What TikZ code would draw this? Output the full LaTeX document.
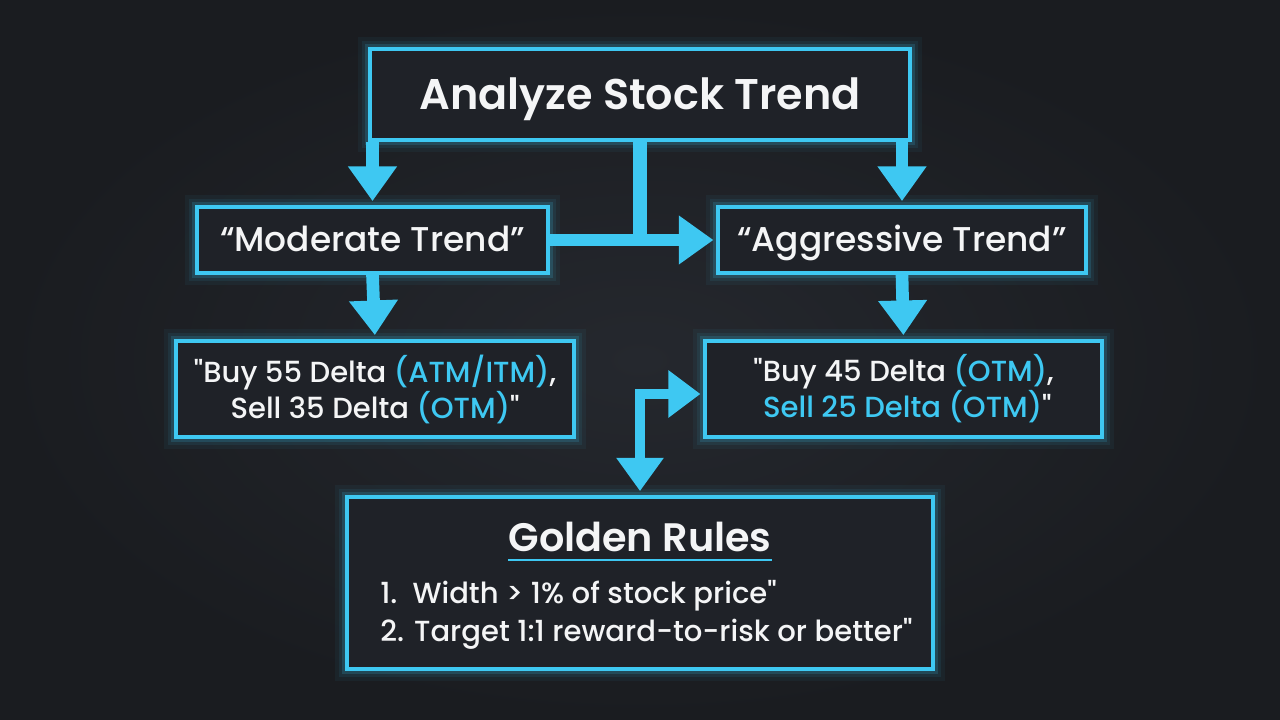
\documentclass[tikz,border=0pt]{standalone}
\usepackage{fontspec}
\setmainfont{Poppins}[Ligatures=TeXOff]
\IfFontExistsTF{Poppins SemiBold}
  {\newfontfamily\semib{Poppins SemiBold}[Ligatures=TeXOff]}
  {\newfontfamily\semib{Poppins}[FakeBold=2,Ligatures=TeXOff]}
\IfFontExistsTF{Poppins Medium}
  {\newfontfamily\medi{Poppins Medium}[Ligatures=TeXOff]}
  {\newfontfamily\medi{Poppins}[FakeBold=0.8,Ligatures=TeXOff]}
\usetikzlibrary{arrows.meta,calc}
\definecolor{bg}{HTML}{25282E}
\definecolor{bgedge}{HTML}{1A1C20}
\definecolor{boxfill}{HTML}{1F2228}
\definecolor{cy}{HTML}{3EC8F2}
\definecolor{tx}{HTML}{F4F5F6}
\begin{document}
\begin{tikzpicture}[x=0.75pt,y=-0.75pt,
  box/.style={draw=cy, line width=2.8pt, fill=boxfill, inner sep=0pt, text=tx, align=center,
    preaction={draw=cy, line width=18pt, draw opacity=0.05},
    preaction={draw=cy, line width=12pt, draw opacity=0.08},
    preaction={draw=cy, line width=7pt, draw opacity=0.16}},
  arr/.style={draw=cy, line width=9.5pt, -{Triangle[length=26pt,width=35pt]}},
  stem/.style={draw=cy, line width=10.5pt},
  bigfont/.style={font=\fontsize{32.2}{38}\semib},
  goldfont/.style={font=\fontsize{29.8}{34}\semib},
  midfont/.style={font=\fontsize{25.8}{30}\medi},
  smallfont/.style={font=\fontsize{21.8}{27}\medi},
  plain/.style={text=tx, inner sep=0pt}]
\shade[inner color=bg, outer color=bgedge] (0,0) rectangle (1280,720);
\useasboundingbox (0,0) rectangle (1280,720);

\node[box, minimum width=405pt, minimum height=68.25pt, bigfont, text height=23pt, text depth=0pt] (top) at (640,94.5) {Analyze Stock Trend};
\node[box, minimum width=263.25pt, minimum height=49.5pt, midfont, text height=18pt, text depth=0pt] (mod) at (372.5,240) {“Moderate Trend”};
\node[box, minimum width=276pt, minimum height=49.5pt, midfont, text height=18pt, text depth=0pt] (agg) at (902,240) {“Aggressive Trend”};
\node[box, minimum width=298.5pt, minimum height=72pt, smallfont] (b55) at (375,389)
  {"Buy 55 Delta {\color{cy}(ATM/ITM)},\\Sell 35 Delta {\color{cy}(OTM)}"};
\node[box, minimum width=297.75pt, minimum height=72pt, smallfont] (b45) at (903.5,389)
  {"Buy 45 Delta {\color{cy}(OTM)},\\\ {\color{cy}Sell 25 Delta (OTM)}"};
\node[box, minimum width=439.5pt, minimum height=129pt] (gold) at (640,583) {};

\node[plain, goldfont, anchor=base] (gt) at (640,551) {Golden Rules};
\draw[cy, line width=2.2pt] ($(gt.base west)+(0,9)$) coordinate (ul1) -- ($(gt.base east)+(0,9)$) coordinate (ul2);
\node[plain, smallfont, anchor=base west] (r1) at (380,603) {1.\ \ Width > 1\% of stock price"};
\node[plain, smallfont, anchor=base west] (r2) at (380,641) {2. Target 1:1 reward-to-risk or better"};

% connectors
\draw[arr, shorten >=3pt] (top.south -| mod.north) -- (mod.north);
\draw[arr, shorten >=3pt] (top.south -| agg.north) -- (agg.north);
\draw[stem] (top.south) -- (top.south |- mod.east);
\draw[arr, shorten >=2pt] (mod.east) -- (agg.west);
\draw[arr, shorten >=3pt] (mod.south) -- (b55.north);
\draw[arr, shorten >=3pt] (agg.south) -- (b45.north);
\coordinate (elb) at (640,394);
\draw[draw=cy, line width=7.5pt, {Triangle[length=25pt,width=34pt]}-{Triangle[length=24pt,width=34pt]}, shorten <=3pt, shorten >=2pt]
  (gold.north -| elb) -- (elb) -- (elb -| b45.west);
\end{tikzpicture}
\end{document}
